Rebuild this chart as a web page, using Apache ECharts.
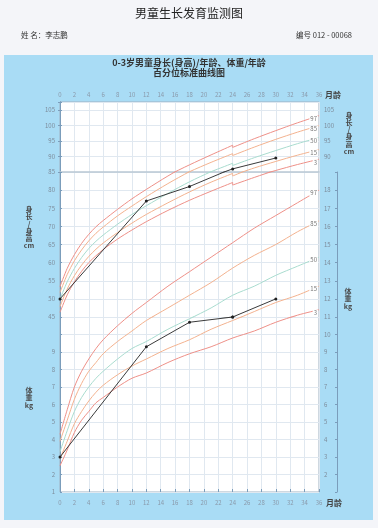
<!DOCTYPE html>
<html lang="zh">
<head>
<meta charset="UTF-8">
<title>男童生长发育监测图</title>
<style>
  html, body { margin: 0; padding: 0; background: #f4f5f9; }
  #main { width: 378px; height: 528px; }
</style>
</head>
<body>
<div id="main"></div>
<script src="https://cdn.jsdelivr.net/npm/echarts@6/dist/echarts.min.js"></script>
<script>
// 月龄（身长到24月，之后为身高，所以24月出现两次）
var ageHeight = [0,1,2,3,4,5,6,8,10,12,15,18,21,24,24,27,30,33,36];
var ageWeight = [0,1,2,3,4,5,6,8,10,12,15,18,21,24,27,30,33,36];

// 身长/身高 百分位 (cm)
var height97 = [53.4,58.4,62.2,65.3,67.8,69.9,71.6,74.7,77.6,80.2,83.9,87.3,90.5,93.6,92.9,95.7,98.3,100.8,103.1];
var height85 = [51.8,56.7,60.5,63.5,66.0,68.1,69.8,72.9,75.6,78.2,81.8,85.1,88.1,90.9,90.3,93.0,95.5,97.8,99.9];
var height50 = [49.9,54.7,58.4,61.4,63.9,65.9,67.6,70.6,73.3,75.7,79.1,82.3,85.1,87.8,87.1,89.6,91.9,94.1,96.1];
var height15 = [47.9,52.7,56.4,59.3,61.7,63.7,65.4,68.3,70.9,73.3,76.5,79.5,82.2,84.6,83.9,86.3,88.4,90.4,92.2];
var height3  = [46.3,51.1,54.7,57.6,60.0,61.9,63.6,66.5,69.0,71.3,74.4,77.2,79.7,82.1,81.4,83.5,85.5,87.4,89.1];

// 体重 百分位 (kg)
var weight97 = [4.3,5.7,7.0,7.9,8.6,9.2,9.7,10.5,11.2,11.8,12.7,13.5,14.3,15.1,15.9,16.6,17.3,18.0];
var weight85 = [3.9,5.1,6.3,7.2,7.9,8.4,8.9,9.6,10.2,10.8,11.5,12.2,12.9,13.7,14.4,15.0,15.7,16.3];
var weight50 = [3.3,4.5,5.6,6.4,7.0,7.5,7.9,8.6,9.2,9.6,10.3,10.9,11.5,12.2,12.7,13.3,13.8,14.3];
var weight15 = [2.9,3.9,4.9,5.6,6.2,6.7,7.1,7.7,8.2,8.6,9.2,9.7,10.3,10.8,11.3,11.8,12.2,12.7];
var weight3  = [2.5,3.4,4.4,5.1,5.6,6.1,6.4,7.0,7.5,7.8,8.4,8.9,9.3,9.8,10.2,10.7,11.1,11.4];

// 儿童实测
var childAge = [0, 12, 18, 24, 30];
var childHeight = [50, 77, 81, 86, 89.5];
var childWeight = [3, 9.3, 10.7, 11, 12];

// 刻度标签
var monthTicks = [0,2,4,6,8,10,12,14,16,18,20,22,24,26,28,30,32,34,36];
var leftTopLabels = [85, 90, 95, 100, 105];
var rightTopLabels = [90, 95, 100, 105];
var leftMidLabels = [45, 50, 55, 60, 65, 70, 75, 80];
var rightMidLabels = [11, 12, 13, 14, 15, 16, 17, 18];
var leftBotLabels = [1, 2, 3, 4, 5, 6, 7, 8, 9];
var rightBotLabels = [2, 3, 4, 5, 6, 7, 8, 9, 10];

var pctNames = ['97', '85', '50', '15', '3'];
var heightCurves = [height97, height85, height50, height15, height3];
var weightCurves = [weight97, weight85, weight50, weight15, weight3];
var pctColors = ['#ee9088', '#f3b28f', '#a9dccf', '#f3b28f', '#ee9088'];

var font = 'Noto Sans CJK SC, sans-serif';
var axisColor = '#7b9dbb';
var gridColor = '#e0e8f0';

function yAx(grid, pos, min, max, interval, labels, split) {
  var left = pos === 'left';
  return {
    type: 'value', gridIndex: grid, position: pos, offset: left ? 19 : 18,
    min: min, max: max, interval: interval,
    axisLine: { show: true, lineStyle: { color: axisColor } },
    axisTick: { show: true, inside: true, length: 2, lineStyle: { color: axisColor } },
    axisLabel: {
      inside: true, align: left ? 'right' : 'left', margin: left ? 14 : 13,
      fontSize: 6, color: '#7d8c9b', fontFamily: font,
      formatter: function (v) { return labels.indexOf(v) >= 0 ? String(v) : ''; }
    },
    splitLine: { show: split, lineStyle: { color: gridColor, width: 1 } }
  };
}

function xAx(grid, pos, showLabel) {
  return {
    type: 'value', gridIndex: grid, position: pos, min: 0, max: 36, interval: 2,
    axisLine: { show: false },
    axisTick: { show: pos === 'bottom' && showLabel, inside: true, length: 3, lineStyle: { color: axisColor } },
    axisLabel: {
      show: showLabel, fontSize: 6, color: '#8a99aa', fontFamily: font,
      margin: pos === 'top' ? 4 : 8,
      formatter: function (v) { return monthTicks.indexOf(v) >= 0 ? String(v) : ''; }
    },
    splitLine: { show: true, lineStyle: { color: gridColor, width: 1 } }
  };
}

function pairs(xs, ys, name) {
  return ys.map(function (y, i) {
    var item = { value: [xs[i], y] };
    if (name && i === ys.length - 1) {
      item.symbol = 'circle';
      item.symbolSize = 0.01;
      item.label = {
        show: true, formatter: name, position: 'left', distance: 1, offset: [0, 3],
        fontSize: 6, color: '#777', fontFamily: font,
        backgroundColor: '#fff', padding: [0, 1]
      };
    }
    return item;
  });
}

var series = [];
function curve(xi, yi, xs, ys, color, name) {
  series.push({
    type: 'line', xAxisIndex: xi, yAxisIndex: yi, clip: true,
    symbol: 'none', showSymbol: true, silent: true, smooth: 0.3,
    lineStyle: { color: color, width: 1 },
    itemStyle: { color: color },
    data: pairs(xs, ys, name)
  });
}
heightCurves.forEach(function (c, i) {
  curve(1, 1, ageHeight, c, pctColors[i], pctNames[i]);
  curve(3, 3, ageHeight, c, pctColors[i], pctNames[i]);
});
weightCurves.forEach(function (c, i) {
  curve(3, 4, ageWeight, c, pctColors[i], pctNames[i]);
  curve(4, 5, ageWeight, c, pctColors[i], pctNames[i]);
});
function child(xi, yi, ys) {
  series.push({
    type: 'line', xAxisIndex: xi, yAxisIndex: yi, clip: true, z: 5,
    symbol: 'circle', symbolSize: 3, silent: true,
    lineStyle: { color: '#3a3a3a', width: 1 },
    itemStyle: { color: '#222' },
    data: pairs(childAge, ys)
  });
}
child(1, 1, childHeight);
child(3, 3, childHeight);
child(3, 4, childWeight);
child(4, 5, childWeight);

function txt(x, y, text, size, opt) {
  opt = opt || {};
  return {
    type: 'text', x: x, y: y, z: 10, silent: true,
    style: {
      text: text, fill: opt.color || '#333', fontSize: size, fontFamily: font,
      fontWeight: opt.bold ? 'bold' : 'normal', lineHeight: opt.lh,
      align: opt.align || 'center', textAlign: opt.align || 'center',
      verticalAlign: opt.va || 'middle', textVerticalAlign: opt.va || 'middle'
    }
  };
}

var chart = echarts.init(document.getElementById('main'));
chart.setOption({
  animation: false,
  backgroundColor: '#f4f5f9',
  textStyle: { fontFamily: font },
  graphic: [
    { type: 'rect', z: -10, silent: true, shape: { x: 4, y: 55, width: 369, height: 465 }, style: { fill: '#a9dcf5' } },
    txt(189, 13, '男童生长发育监测图', 12, { color: '#222' }),
    txt(21, 35, '姓 名：李志鹏', 7.5, { align: 'left' }),
    txt(352, 35, '编号 012 - 00068', 7.5, { align: 'right' }),
    txt(189, 62.5, '0-3岁男童身长(身高)/年龄、体重/年龄', 9, { bold: true }),
    txt(189, 72.5, '百分位标准曲线图', 9, { bold: true }),
    txt(333, 95, '月龄', 8, { bold: true, color: '#444' }),
    txt(334, 503, '月龄', 8, { bold: true, color: '#444' }),
    txt(29, 206, '身\n长\n/\n身\n高\ncm', 7, { bold: true, color: '#4a4a4a', lh: 7.2, va: 'top' }),
    txt(349, 111.5, '身\n长\n/\n身\n高\ncm', 7, { bold: true, color: '#4a4a4a', lh: 7.2, va: 'top' }),
    txt(348, 287.5, '体\n重\nkg', 7, { bold: true, color: '#4a4a4a', lh: 7.5, va: 'top' }),
    txt(29, 386.5, '体\n重\nkg', 7, { bold: true, color: '#4a4a4a', lh: 7.5, va: 'top' })
  ],
  grid: [
    { left: 60, top: 102, width: 259, height: 390, show: true, z: -1, backgroundColor: '#ffffff', borderColor: '#9fb0c0', borderWidth: 1, outerBoundsMode: 'none' },
    { left: 60, top: 102, width: 259, height: 70, outerBoundsMode: 'none' },
    { left: 60, top: 172, width: 259, height: 145, outerBoundsMode: 'none' },
    { left: 60, top: 317, width: 259, height: 175, outerBoundsMode: 'none' }
  ],
  xAxis: [
    { type: 'value', gridIndex: 0, min: 0, max: 36, show: false },
    xAx(1, 'top', true),
    { type: 'value', gridIndex: 1, position: 'bottom', min: 0, max: 36,
      axisLine: { show: true, lineStyle: { color: '#b9c7d4', width: 1.5 } },
      axisTick: { show: false }, axisLabel: { show: false }, splitLine: { show: false } },
    xAx(2, 'bottom', false),
    xAx(3, 'bottom', true)
  ],
  yAxis: [
    { type: 'value', gridIndex: 0, min: 0, max: 1, show: false },
    yAx(1, 'left', 85, 107.5, 5, leftTopLabels, true),
    yAx(1, 'right', 85, 107.5, 5, rightTopLabels, false),
    yAx(2, 'left', 45, 85, 5, leftMidLabels, false),
    yAx(2, 'right', 11, 19, 1, rightMidLabels, true),
    yAx(3, 'left', 1, 11, 1, leftBotLabels, true),
    yAx(3, 'right', 1, 11, 1, rightBotLabels, false)
  ],
  series: series
});
</script>
</body>
</html>
